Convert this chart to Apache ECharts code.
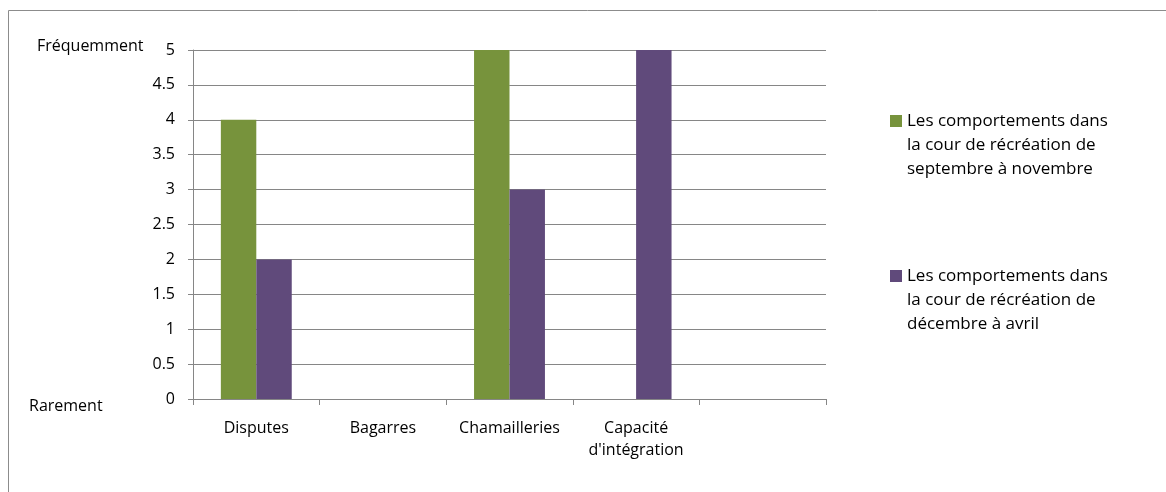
<!DOCTYPE html>
<html>
<head>
<meta charset="utf-8">
<script src="https://cdn.jsdelivr.net/npm/echarts@6/dist/echarts.min.js"></script>
<style>
html,body{margin:0;padding:0;background:#fff;}
#c{width:1166px;height:492px;}
</style>
</head>
<body>
<div id="c"></div>
<script>
var categories = ['Disputes', 'Bagarres', 'Chamailleries', "Capacité\nd'intégration", ''];
var seriesNames = [
  'Les comportements dans\nla cour de récréation de\nseptembre à novembre',
  'Les comportements dans\nla cour de récréation de\ndécembre à avril'
];
var valuesSeptNov = [4, 0, 5, 0, null];
var valuesDecAvr = [2, 0, 3, 5, null];
var yTopLabel = 'Fréquemment';
var yBottomLabel = 'Rarement';

var FONT = 'Open Sans';
var chart = echarts.init(document.getElementById('c'));
var legendText = {fontFamily: FONT, fontSize: 17, color: '#000', lineHeight: 24};
function legendFmt(name) { return '\n\n' + name; }
chart.setOption({
  animation: false,
  textStyle: {fontFamily: FONT},
  grid: {left: 193, right: 340, top: 50, bottom: 93, containLabel: false},
  graphic: [
    {type: 'rect', z: -1, shape: {x: 8.5, y: 10.5, width: 1300, height: 700}, style: {fill: 'none', stroke: '#8c8c8c', lineWidth: 1}},
    {type: 'text', left: 37, top: 38, style: {text: yTopLabel, font: '16px "Open Sans"', fill: '#000'}},
    {type: 'text', left: 29, top: 398, style: {text: yBottomLabel, font: '16px "Open Sans"', fill: '#000'}}
  ],
  legend: [
    {data: [seriesNames[0]], orient: 'vertical', left: 890, top: 61, padding: 0, itemWidth: 12, itemHeight: 12, icon: 'rect', formatter: legendFmt, textStyle: legendText},
    {data: [seriesNames[1]], orient: 'vertical', left: 890, top: 216, padding: 0, itemWidth: 12, itemHeight: 12, icon: 'rect', formatter: legendFmt, textStyle: legendText}
  ],
  xAxis: {
    type: 'category',
    data: categories,
    axisLine: {lineStyle: {color: '#868686'}},
    axisTick: {show: true, length: 6, lineStyle: {color: '#868686'}},
    axisLabel: {fontFamily: FONT, fontSize: 16, color: '#000', margin: 18, lineHeight: 22, interval: 0}
  },
  yAxis: {
    type: 'value',
    min: 0, max: 5, interval: 0.5,
    axisLine: {show: true, lineStyle: {color: '#868686'}},
    axisTick: {show: true, length: 5, lineStyle: {color: '#868686'}},
    splitLine: {lineStyle: {color: '#868686'}},
    axisLabel: {fontFamily: FONT, fontSize: 16, color: '#000', margin: 18}
  },
  series: [
    {name: seriesNames[0], type: 'bar', data: valuesSeptNov, barGap: '0%', barCategoryGap: '44%', itemStyle: {color: '#77933C'}},
    {name: seriesNames[1], type: 'bar', data: valuesDecAvr, barGap: '0%', barCategoryGap: '44%', itemStyle: {color: '#604A7B'}}
  ]
});
</script>
</body>
</html>
